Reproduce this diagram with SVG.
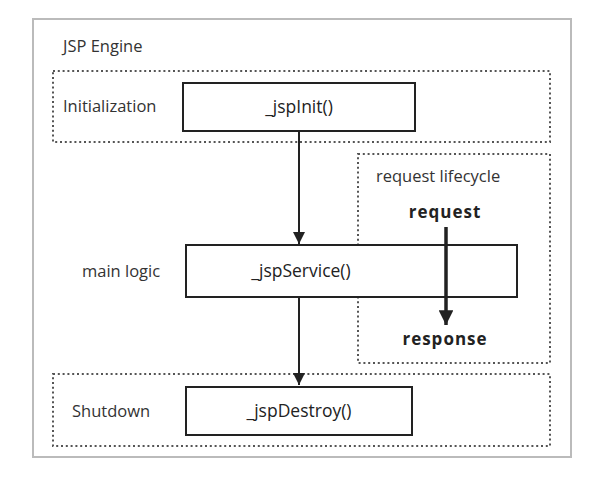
<svg xmlns="http://www.w3.org/2000/svg" width="605" height="487" viewBox="0 0 605 487">
<defs>
<style>
.lbl{font-family:"Open Sans","Noto Sans",sans-serif;font-size:16.5px;fill:#333}
.fn{font-family:"Open Sans","Noto Sans",sans-serif;font-size:17.5px;fill:#222;text-anchor:middle}
.bold{font-family:"Open Sans","Noto Sans",sans-serif;font-size:17px;font-weight:bold;fill:#222;text-anchor:middle;letter-spacing:1px}
.dot{fill:none;stroke:#555;stroke-width:2;stroke-dasharray:2 2.8}
.box{fill:#fff;stroke:#222;stroke-width:2}
.conn{stroke:#222;stroke-width:2;fill:none}
.thick{stroke-width:3.5}
</style>
<marker id="ah" viewBox="0 0 10 10" refX="10" refY="5" markerWidth="9" markerHeight="6" markerUnits="strokeWidth" orient="auto">
<path d="M0,0 L10,5 L0,10 z" fill="#222"/>
</marker>
<marker id="ah2" viewBox="0 0 10 10" refX="10" refY="5" markerWidth="6.2" markerHeight="4.2" markerUnits="strokeWidth" orient="auto">
<path d="M0,0 L10,5 L0,10 z" fill="#222"/>
</marker>
</defs>
<rect width="605" height="487" fill="#fff"/>
<g id="engine">
<rect x="33" y="19" width="538" height="438" fill="#fff" stroke="#bbb" stroke-width="2"/>
<text class="lbl" x="63" y="52">JSP Engine</text>
</g>
<g id="init-region">
<rect class="dot" x="53" y="71" width="497" height="71"/>
<text class="lbl" x="63" y="112">Initialization</text>
</g>
<g id="lifecycle-region">
<rect class="dot" x="358" y="154" width="192" height="209"/>
<text class="lbl" x="376" y="182">request lifecycle</text>
</g>
<g id="shutdown-region">
<rect class="dot" x="53" y="374" width="497" height="72"/>
<text class="lbl" x="72" y="417">Shutdown</text>
</g>
<g id="mainlogic-label">
<text class="lbl" x="82" y="277">main logic</text>
</g>
<g id="jspInit">
<rect class="box" x="183" y="83" width="232" height="48"/>
<text class="fn" x="299" y="113">_jspInit()</text>
</g>
<g id="jspService">
<rect class="box" x="186" y="245" width="331" height="52"/>
<text class="fn" x="301" y="277">_jspService()</text>
</g>
<g id="jspDestroy">
<rect class="box" x="186" y="387" width="226" height="48"/>
<text class="fn" x="299" y="417">_jspDestroy()</text>
</g>
<g id="request">
<text class="bold" x="445" y="218">request</text>
</g>
<g id="response">
<text class="bold" x="445" y="345">response</text>
</g>
<g id="connectors">
<line class="conn" x1="299" y1="131" x2="299" y2="244" marker-end="url(#ah)"/>
<line class="conn" x1="299" y1="297" x2="299" y2="385" marker-end="url(#ah)"/>
<line class="conn thick" x1="446" y1="227" x2="446" y2="325" marker-end="url(#ah2)"/>
</g>
</svg>
